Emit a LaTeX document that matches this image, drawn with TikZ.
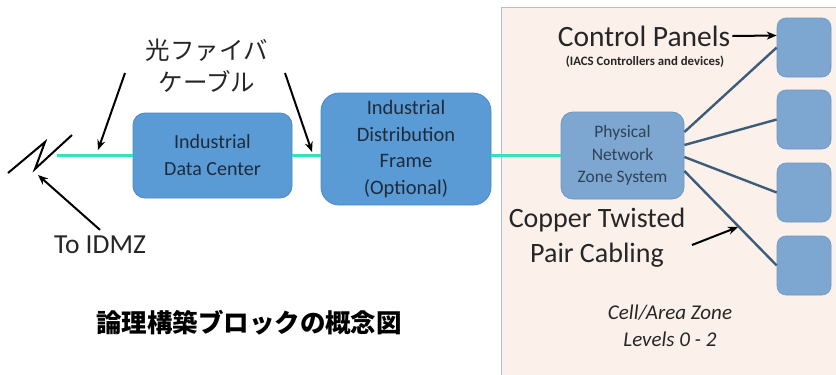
\documentclass[tikz,border=0pt]{standalone}
\usepackage{fontspec}
\setmainfont{Carlito}
\newfontfamily\jp{Noto Sans CJK JP}
\usetikzlibrary{arrows.meta,calc}
\definecolor{boxblue}{HTML}{5B9BD5}
\definecolor{boxedge}{HTML}{4C88C2}
\definecolor{paleblue}{HTML}{7DA7D1}
\definecolor{paleedge}{HTML}{6E98C2}
\definecolor{zonefill}{HTML}{FBF0EA}
\definecolor{zoneedge}{HTML}{AFC0D2}
\definecolor{fiber}{HTML}{33E2C2}
\definecolor{copper}{HTML}{3D5C7A}
\definecolor{ink}{HTML}{262626}
\definecolor{boxink}{HTML}{1E2B3C}
\definecolor{paleink}{HTML}{2F4256}
\tikzset{
  mainbox/.style={draw=boxedge, line width=0.8pt, fill=boxblue, rounded corners=12pt,
    text=boxink, align=center, inner sep=0pt},
  zonebox/.style={draw=paleedge, line width=0.8pt, fill=paleblue, rounded corners=12pt,
    text=paleink, align=center, inner sep=0pt},
  panel/.style={draw=paleedge, line width=0.6pt, fill=paleblue, rounded corners=9pt,
    minimum width=54pt, minimum height=59pt, inner sep=0pt},
  fiberline/.style={draw=fiber, line width=2.4pt},
  culine/.style={draw=copper, line width=2.4pt},
  pointer/.style={draw=black, line width=2pt, -{Stealth[length=10pt,width=8pt]}},
  label/.style={text=ink, align=center, inner sep=0pt}
}
\begin{document}
\begin{tikzpicture}[x=1pt,y=-1pt]
\useasboundingbox (0,0) rectangle (836,375);
\fill[white] (0,0) rectangle (836,375);

% cell/area zone background
\fill[zonefill] (501,7) rectangle (836,375);
\draw[zoneedge, line width=0.8pt] (501,375) -- (501,7) -- (836,7);

% blocks
\node[mainbox, minimum width=159pt, minimum height=85pt,
  font=\fontsize{20}{27}\selectfont] (dc) at (212.5,155.5) {Industrial\\Data Center};
\node[mainbox, rounded corners=18pt, minimum width=170pt, minimum height=112pt,
  font=\fontsize{20.5}{26.5}\selectfont] (idf) at (406,149) {Industrial\\Distribution\\Frame\\(Optional)};
\node[zonebox, minimum width=123pt, minimum height=87pt,
  font=\fontsize{17.5}{22.5}\selectfont] (pnz) at (622.5,155.5) {Physical\\Network\\Zone System};

\node[panel] (p1) at (804,47.5) {};
\node[panel] (p2) at (804,119.5) {};
\node[panel] (p3) at (804,192.5) {};
\node[panel] (p4) at (804,265.5) {};

% fiber runs, all on one level
\coordinate (fstart) at (57,155.5);
\path[fiberline] (fstart) -- (dc.west);
\path[fiberline] (dc.east) -- (dc.east -| idf.west);
\path[fiberline] (pnz.west -| idf.east) -- (pnz.west);

% copper runs to the panels
\path[culine] ([yshift=23.5pt]pnz.east) -- (p1.west);
\path[culine] ([yshift=10.5pt]pnz.east) -- (p2.west);
\path[culine] ([yshift=-1.5pt]pnz.east) -- (p3.west);
\path[culine] ([yshift=-15.5pt]pnz.east) -- (p4.west);

% break symbol toward the IDMZ
\coordinate (b1) at (8,173);
\coordinate (b2) at (45,142);
\coordinate (b3) at (35,169);
\coordinate (b4) at (72,135);
\draw[black, line width=2pt, line join=miter] (b1) -- (b2) -- (b3) -- (b4);

% labels
\node[label, font=\fontsize{27.5}{33}\selectfont] (idmz) at (100,245) {To IDMZ};
\coordinate (idmztip) at (38,175);
\draw[pointer] (idmz.north) ++(0,-6) coordinate (idmzfoot) (idmzfoot) -- (idmztip);

\node[label, font=\jp\fontsize{24.5}{32}\selectfont] (fib) at (207,66) {光ファイバ\\ケーブル};
\coordinate (fa1) at (125,73);
\coordinate (fa1tip) at (98,150);
\coordinate (fa2) at (285,73);
\coordinate (fa2tip) at (312,152);
\draw[pointer] (fa1) -- (fa1tip);
\draw[pointer] (fa2) -- (fa2tip);

\node[label, font=\fontsize{29.5}{34}\selectfont] (cp) at (644,36) {Control Panels};
\draw[pointer] (cp.east) ++(2,0) coordinate (cpfoot) (cpfoot) -- ([yshift=12pt]p1.west);
\node[label, font=\bfseries\fontsize{12.8}{15}\selectfont] (iacs) at (645,62) {(IACS Controllers and devices)};

\node[label, font=\fontsize{28}{35}\selectfont] (cu) at (597,238) {Copper Twisted\\Pair Cabling};
\coordinate (cufoot) at (692,245);
\coordinate (cutip) at (738,227);
\draw[pointer] (cufoot) -- (cutip);

\node[label, font=\itshape\fontsize{21}{27}\selectfont] (zone) at (670,326) {Cell/Area Zone\\Levels 0 - 2};

\node[label, text=black, font=\jp\bfseries\fontsize{25.5}{30}\selectfont] (title) at (249,323) {論理構築ブロックの概念図};
\end{tikzpicture}
\end{document}
